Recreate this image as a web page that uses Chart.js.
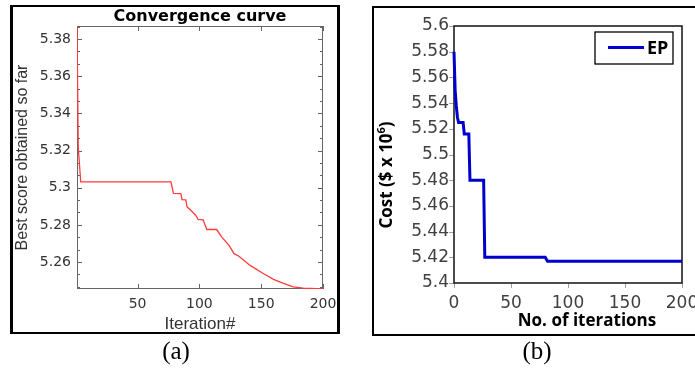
<!DOCTYPE html>
<html>
<head>
<meta charset="utf-8">
<script src="https://cdn.jsdelivr.net/npm/chart.js@4.4.0/dist/chart.umd.min.js"></script>
<style>
  html, body { margin: 0; padding: 0; background: #fff; overflow: hidden; }
  #page { position: relative; width: 695px; height: 369px; overflow: hidden; }
  .frame { position: absolute; box-sizing: border-box; border: solid #000; }
  #frameA { left: 10px; top: 5px; width: 330px; height: 329px; border-width: 2px 3px 2px 3px; }
  #frameB { left: 372px; top: 6px; width: 340px; height: 330px; border-width: 2px 0 2px 2px; }
  canvas { position: absolute; top: 0; }
  #chartA { left: 0; }
  #chartB { left: 350px; }
  .cap { position: absolute; top: 337px; line-height: 28px; font-size: 25px;
         font-family: "Liberation Serif", "Times New Roman", serif; color: #000; transform: translateX(-50%); }
</style>
</head>
<body>
<div id="page">
  <div class="frame" id="frameA"></div>
  <div class="frame" id="frameB"></div>
  <canvas id="chartA" width="345" height="340"></canvas>
  <canvas id="chartB" width="360" height="340"></canvas>
  <div class="cap" style="left:176px">(a)</div>
  <div class="cap" style="left:537px">(b)</div>
</div>
<script>
// (a) convergence curve
const aIter  = [1, 2, 4, 77, 79, 85, 86, 89, 90, 93, 97, 99, 103, 106, 114, 118, 124, 128, 132, 141, 152, 160, 168, 176, 184, 200];
const aScore = [5.387, 5.322, 5.3031, 5.3031, 5.2970, 5.2968, 5.2936, 5.2934, 5.2897, 5.2879, 5.2852, 5.2829, 5.2827,
                5.2775, 5.2775, 5.2735, 5.2690, 5.2645, 5.2631, 5.2582, 5.2537, 5.2507, 5.2485, 5.2467, 5.2460, 5.2455];
const aXTicks = [50, 100, 150, 200];
const aYTicks = [5.26, 5.28, 5.30, 5.32, 5.34, 5.36, 5.38];

// (b) EP cost
const bIter = [0, 1, 2, 3, 4, 8, 9, 13, 14, 26, 27, 80, 82, 200];
const bCost = [5.58, 5.55, 5.538, 5.529, 5.525, 5.525, 5.516, 5.516, 5.48, 5.48, 5.42, 5.42, 5.417, 5.417];
const bXTicks = [0, 50, 100, 150, 200];
const bYTicks = [5.40, 5.42, 5.44, 5.46, 5.48, 5.50, 5.52, 5.54, 5.56, 5.58, 5.60];

const fmt = v => String(+Number(v).toFixed(2));
const toPts = (xs, ys) => xs.map((x, i) => ({ x: x, y: ys[i] }));
const fixTicks = list => s => { s.ticks = list.map(v => ({ value: v })); };

// matlab style box: frame, inward ticks on all four sides, minor y ticks, title
const axesA = {
    id: 'axesA',
    beforeDatasetsDraw(chart) {
        const { ctx, chartArea: a, scales: { x, y } } = chart;
        ctx.save();
        ctx.strokeStyle = '#666';
        ctx.lineWidth = 1;
        ctx.strokeRect(a.left + 0.5, a.top + 0.5, a.width - 1, a.height - 1);
        ctx.beginPath();
        aXTicks.forEach(v => {
            const px = Math.round(x.getPixelForValue(v)) + 0.5;
            ctx.moveTo(px, a.bottom); ctx.lineTo(px, a.bottom - 5);
            ctx.moveTo(px, a.top); ctx.lineTo(px, a.top + 5);
        });
        aYTicks.forEach(v => {
            const py = Math.round(y.getPixelForValue(v)) + 0.5;
            ctx.moveTo(a.left, py); ctx.lineTo(a.left + 5, py);
            ctx.moveTo(a.right, py); ctx.lineTo(a.right - 5, py);
        });
        const step = (aYTicks[1] - aYTicks[0]) / 3;
        for (let v = aYTicks[0] - 2 * step; v < y.max; v += step) {
            if (v < y.min) continue;
            const py = Math.round(y.getPixelForValue(v)) + 0.5;
            ctx.moveTo(a.left, py); ctx.lineTo(a.left + 3, py);
            ctx.moveTo(a.right, py); ctx.lineTo(a.right - 3, py);
        }
        ctx.stroke();
        ctx.restore();
    },
    afterDraw(chart) {
        const { ctx, chartArea: a } = chart;
        ctx.save();
        ctx.fillStyle = '#000';
        ctx.font = 'bold 16px "DejaVu Sans"';
        ctx.textAlign = 'center';
        ctx.textBaseline = 'alphabetic';
        ctx.fillText('Convergence curve', (a.left + a.right) / 2, 21);
        ctx.restore();
    }
};

// excel style: black box, outward grey ticks, titles and boxed legend
const axesB = {
    id: 'axesB',
    beforeDatasetsDraw(chart) {
        const { ctx, chartArea: a, scales: { x, y } } = chart;
        ctx.save();
        ctx.strokeStyle = '#a0a0a0';
        ctx.lineWidth = 1;
        ctx.beginPath();
        bYTicks.forEach(v => {
            const py = Math.round(y.getPixelForValue(v)) + 0.5;
            ctx.moveTo(a.left - 5, py); ctx.lineTo(a.left, py);
        });
        bXTicks.forEach(v => {
            const px = Math.round(x.getPixelForValue(v)) + 0.5;
            ctx.moveTo(px, a.bottom); ctx.lineTo(px, a.bottom + 5);
        });
        ctx.stroke();
        ctx.strokeStyle = '#111';
        ctx.lineWidth = 1.5;
        ctx.strokeRect(a.left, a.top, a.width, a.height);
        ctx.restore();
    },
    afterDraw(chart) {
        const { ctx, chartArea: a } = chart;
        ctx.save();
        ctx.fillStyle = '#000';
        ctx.textBaseline = 'alphabetic';

        // x title
        ctx.font = 'bold 17px "Open Sans"';
        ctx.textAlign = 'center';
        ctx.fillText('No. of iterations', 237, 325.5);

        // y title with superscript
        ctx.translate(42, 175);
        ctx.rotate(-Math.PI / 2);
        ctx.textAlign = 'left';
        const main = 'Cost ($ x 10', sup = '6', end = ')';
        ctx.font = 'bold 17px "Open Sans"';
        const w1 = ctx.measureText(main).width, w3 = ctx.measureText(end).width;
        ctx.font = 'bold 11px "Open Sans"';
        const w2 = ctx.measureText(sup).width;
        let sx = -(w1 + w2 + w3) / 2;
        ctx.font = 'bold 17px "Open Sans"';
        ctx.fillText(main, sx, 0);
        ctx.font = 'bold 11px "Open Sans"';
        ctx.fillText(sup, sx + w1, -7);
        ctx.font = 'bold 17px "Open Sans"';
        ctx.fillText(end, sx + w1 + w2, 0);
        ctx.setTransform(1, 0, 0, 1, 0, 0);

        // legend
        const lx = a.right - 87, ly = a.top + 6;
        ctx.fillStyle = '#fff';
        ctx.fillRect(lx, ly, 78, 32);
        ctx.strokeStyle = '#000';
        ctx.lineWidth = 1.3;
        ctx.strokeRect(lx, ly, 78, 32);
        ctx.strokeStyle = chart.data.datasets[0].borderColor;
        ctx.lineWidth = 3;
        ctx.beginPath();
        ctx.moveTo(lx + 13, ly + 15.5); ctx.lineTo(lx + 49, ly + 15.5);
        ctx.stroke();
        ctx.fillStyle = '#000';
        ctx.font = 'bold 18px "Open Sans"';
        ctx.fillText(chart.data.datasets[0].label, lx + 52, ly + 22);
        ctx.restore();
    }
};

new Chart(document.getElementById('chartA'), {
    type: 'line',
    data: { datasets: [{ label: 'Best score', data: toPts(aIter, aScore), borderColor: '#ff3b3b', borderWidth: 1.3,
                         pointRadius: 0, tension: 0, fill: false }] },
    options: {
        responsive: false, animation: false, events: [],
        layout: { padding: { left: 12, right: 22, top: 26, bottom: 0 } },
        plugins: { legend: { display: false }, tooltip: { enabled: false } },
        scales: {
            x: {
                type: 'linear', min: 1, max: 200,
                grid: { display: false, drawTicks: false }, border: { display: false },
                afterBuildTicks: fixTicks(aXTicks),
                afterFit: s => { s.height = 51; },
                ticks: { font: { family: 'DejaVu Sans', size: 14 }, color: '#333', padding: 7, maxRotation: 0, autoSkip: false },
                title: { display: true, text: 'Iteration#', color: '#333',
                         font: { family: 'Liberation Sans', size: 17 }, padding: { top: 0, bottom: 5 } }
            },
            y: {
                type: 'linear', min: 5.2455, max: 5.387,
                grid: { display: false, drawTicks: false }, border: { display: false },
                afterBuildTicks: fixTicks(aYTicks),
                afterFit: s => { s.width = 65; },
                ticks: { font: { family: 'DejaVu Sans', size: 14 }, color: '#333', padding: 6, autoSkip: false, callback: fmt },
                title: { display: true, text: 'Best score obtained so far', color: '#333',
                         font: { family: 'Liberation Sans', size: 16 }, padding: { top: 1, bottom: 0 } }
            }
        }
    },
    plugins: [axesA]
});

new Chart(document.getElementById('chartB'), {
    type: 'line',
    data: { datasets: [{ label: 'EP', data: toPts(bIter, bCost), borderColor: '#0000cc', borderWidth: 3,
                         pointRadius: 0, tension: 0, fill: false, clip: 4, borderJoinStyle: 'miter' }] },
    options: {
        responsive: false, animation: false, events: [],
        layout: { padding: { left: 0, right: 28, top: 26, bottom: 0 } },
        plugins: { legend: { display: false }, tooltip: { enabled: false } },
        scales: {
            x: {
                type: 'linear', min: 0, max: 200,
                grid: { display: false, drawTicks: false }, border: { display: false },
                afterBuildTicks: fixTicks(bXTicks),
                afterFit: s => { s.height = 57; },
                ticks: { font: { family: 'DejaVu Sans', size: 17 }, color: '#404040', padding: 10, maxRotation: 0, autoSkip: false }
            },
            y: {
                type: 'linear', min: 5.4, max: 5.6,
                grid: { display: false, drawTicks: false }, border: { display: false },
                afterBuildTicks: fixTicks(bYTicks),
                afterFit: s => { s.width = 104; },
                ticks: { font: { family: 'DejaVu Sans', size: 17 }, color: '#404040', padding: 5, autoSkip: false, callback: fmt }
            }
        }
    },
    plugins: [axesB]
});
</script>
</body>
</html>
